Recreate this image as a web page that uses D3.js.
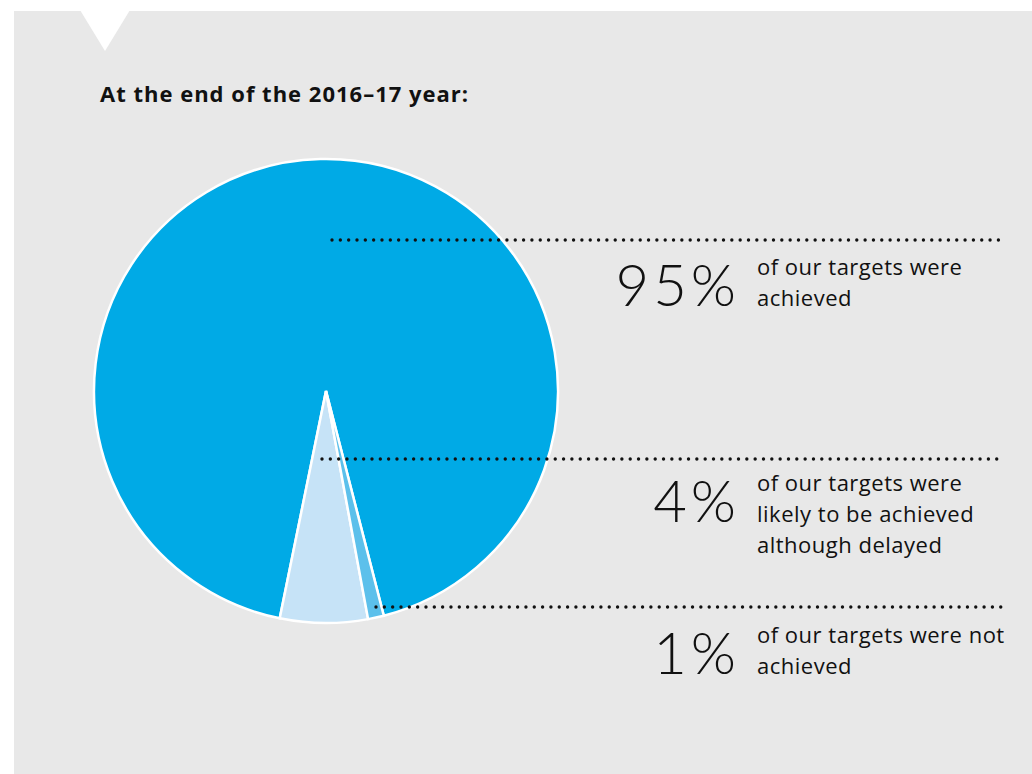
<!DOCTYPE html>
<html>
<head>
<meta charset="utf-8">
<script src="https://cdn.jsdelivr.net/npm/d3@7"></script>
<style>
  body { margin: 0; background: #fff; }
  svg { display: block; }
</style>
</head>
<body>
<svg id="chart" width="1032" height="774"></svg>
<script>
// ---- data ----
var categories = ["achieved", "delayed", "not achieved"];
var pctLabels = ["95%", "4%", "1%"];
// share of the circle each slice takes as drawn in the picture
var sliceShare = [92.8, 6.1, 1.1];
var sliceColors = ["#00aae6", "#c6e3f7", "#5cc0eb"];
var descLines = [
  ["of our targets were", "achieved"],
  ["of our targets were", "likely to be achieved", "although delayed"],
  ["of our targets were not", "achieved"]
];
var title = "At the end of the 2016\u201317 year:";

// ---- layout ----
var cx = 326, cy = 391, radius = 232;
var leaderY = [240, 459, 607];
var leaderX0 = [332, 322, 376];
var leaderX1 = 1003;
var numBaseline = [306, 522, 674];

var svg = d3.select("#chart");

// panel + notch
svg.append("rect").attr("x", 14).attr("y", 11).attr("width", 1018).attr("height", 763).attr("fill", "#e8e8e8");
svg.append("path").attr("d", "M80,10 L130,10 L105,51 Z").attr("fill", "#fff");

svg.append("text")
  .attr("x", 100).attr("y", 102)
  .attr("font-family", "'Open Sans', sans-serif")
  .attr("font-weight", 700)
  .attr("font-size", 22)
  .attr("letter-spacing", 1)
  .attr("fill", "#111")
  .text(title);

// ---- pie ----
var order = [0, 2, 1]; // clockwise draw order: achieved, not achieved, delayed
var start = 191.5 * Math.PI / 180;
var pie = d3.pie()
  .sort(function(a, b){ return order.indexOf(a) - order.indexOf(b); })
  .value(function(i){ return sliceShare[i]; })
  .startAngle(start)
  .endAngle(start + 2 * Math.PI);
var arc = d3.arc().innerRadius(0).outerRadius(radius);

svg.append("g")
  .attr("transform", "translate(" + cx + "," + cy + ")")
  .selectAll("path")
  .data(pie(d3.range(categories.length)))
  .enter()
  .append("path")
  .attr("d", arc)
  .attr("fill", function(d){ return sliceColors[d.data]; })
  .attr("stroke", "#fff")
  .attr("stroke-width", 2.5)
  .attr("stroke-linejoin", "miter");

// ---- leaders + labels ----
categories.forEach(function(c, i){
  svg.append("line")
    .attr("x1", leaderX0[i]).attr("x2", leaderX1)
    .attr("y1", leaderY[i]).attr("y2", leaderY[i])
    .attr("stroke", "#111")
    .attr("stroke-width", 3.4)
    .attr("stroke-linecap", "round")
    .attr("stroke-dasharray", "0 8.33");

  svg.append("text")
    .attr("x", 740).attr("y", numBaseline[i])
    .attr("text-anchor", "end")
    .attr("font-family", "Lato, 'Open Sans', sans-serif")
    .attr("font-weight", 300)
    .attr("font-size", 58)
    .attr("letter-spacing", 4)
    .attr("fill", "#111")
    .text(pctLabels[i]);

  var firstBase = numBaseline[i] - 31;
  var t = svg.append("text")
    .attr("font-family", "'Open Sans', sans-serif")
    .attr("font-size", 22)
    .attr("letter-spacing", 0.5)
    .attr("fill", "#111");
  descLines[i].forEach(function(line, j){
    t.append("tspan")
      .attr("x", 757)
      .attr("y", firstBase + j * 31)
      .text(line);
  });
});
</script>
</body>
</html>
